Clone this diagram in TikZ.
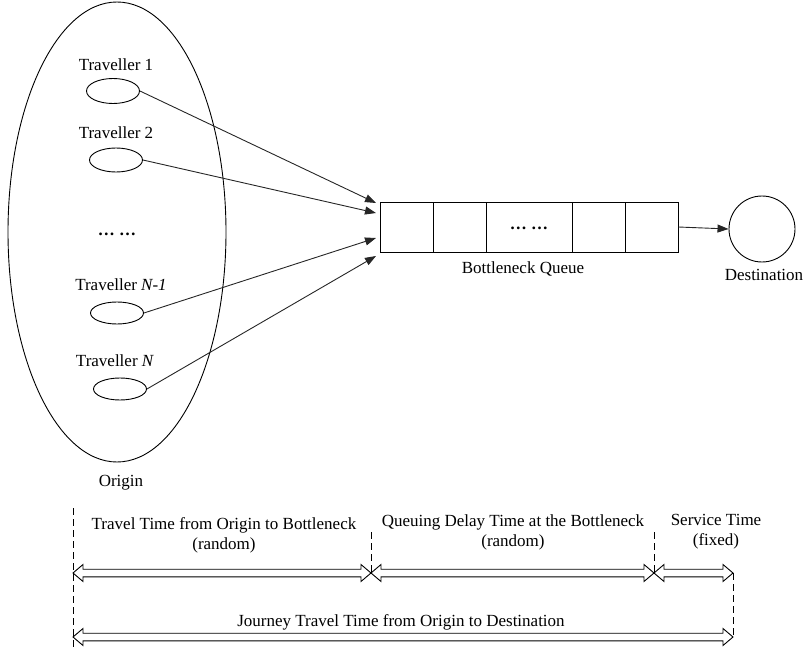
\documentclass[tikz,border=0pt]{standalone}
\usepackage{fontspec}
\setmainfont{Liberation Serif}
\usetikzlibrary{arrows.meta,shapes.geometric}
\tikzset{
  lbl/.style={inner sep=0pt, font=\fontsize{17}{20}\selectfont, align=center},
  oval/.style={draw, line width=0.9pt, ellipse, minimum width=53pt, inner sep=0pt},
  flow/.style={draw=black!85, line width=0.9pt, -{Triangle[length=11pt,width=8pt]}},
  cell/.style={draw, line width=0.9pt, minimum height=50pt, inner sep=0pt},
  span/.style={draw, line width=0.9pt, line join=miter},
  tick/.style={draw, line width=0.9pt, dash pattern=on 7pt off 4pt},
}
\newcommand{\spanarrow}[3]{%
  \path[span] ({#1},{#3}) -- ({#1+10},{#3-8.5}) -- ({#1+10},{#3-3.8}) -- ({#2-10},{#3-3.8})
   -- ({#2-10},{#3-8.5}) -- ({#2},{#3}) -- ({#2-10},{#3+8.5}) -- ({#2-10},{#3+3.8})
   -- ({#1+10},{#3+3.8}) -- ({#1+10},{#3+8.5}) -- cycle;}
\begin{document}
\begin{tikzpicture}[x=1pt,y=-1pt]
\useasboundingbox (0,0) rectangle (807,658);
% origin
\draw[line width=0.9pt] (117,232) ellipse [x radius=109, y radius=230];
\node[lbl] (origin) at (121,483) {Origin};
% travellers
\node[lbl] (t1l) at (116,65) {Traveller 1};
\node[oval, minimum height=25pt] (t1) at (113,91) {};
\node[lbl] (t2l) at (116,133) {Traveller 2};
\node[oval, minimum height=24pt] (t2) at (116,160) {};
\node[lbl] (dots) at (117,234) {\textbf{… …}};
\node[lbl] (t3l) at (121,285) {Traveller \textit{N-1}};
\node[oval, minimum height=22pt] (t3) at (117,313) {};
\node[lbl] (t4l) at (115,361) {Traveller \textit{N}};
\node[oval, minimum height=22pt] (t4) at (120,389) {};
% queue
\node[cell, minimum width=53pt] (q1) at (406.5,227) {};
\node[cell, minimum width=53pt] (q2) at (459.5,227) {};
\node[cell, minimum width=86pt] (q3) at (529,227) {};
\node[cell, minimum width=53pt] (q4) at (598.5,227) {};
\node[cell, minimum width=53pt] (q5) at (651.5,227) {};
\node[lbl] (qdots) at (529,228) {\textbf{… …}};
\node[lbl] (qlbl) at (523,269) {Bottleneck Queue};
% destination
\node[draw, line width=0.9pt, circle, minimum size=66pt, inner sep=0pt] (dest) at (762,229) {};
\node[lbl] (destl) at (764,275) {Destination};
% arrows
\coordinate (a1) at (376,203);
\coordinate (a2) at (376,213);
\coordinate (a3) at (376,238);
\coordinate (a4) at (376,256);
\draw[flow] (t1.east) -- (a1);
\draw[flow] (t2.east) -- (a2);
\draw[flow] (t3.east) -- (a3);
\draw[flow] (t4.east) -- (a4);
\draw[flow] (q5.east) -- (dest.west);
% timeline
\coordinate (m0) at (73,508);
\coordinate (m0b) at (73,650);
\coordinate (m1) at (371,532);
\coordinate (m1b) at (371,573);
\coordinate (m2) at (654,532);
\coordinate (m2b) at (654,573);
\coordinate (m3) at (733,573);
\coordinate (m3b) at (733,637);
\draw[tick] (m0) -- (m0b);
\draw[tick] (m1) -- (m1b);
\draw[tick] (m2) -- (m2b);
\draw[tick] (m3) -- (m3b);
\spanarrow{73}{371}{573}
\spanarrow{371}{654}{573}
\spanarrow{654}{733}{573}
\spanarrow{73}{733}{637}
\node[lbl] (s1) at (224,535) {Travel Time from Origin to Bottleneck\\(random)};
\node[lbl] (s2) at (513,532) {Queuing Delay Time at the Bottleneck\\(random)};
\node[lbl] (s3) at (716,532) {Service Time\\(fixed)};
\node[lbl] (s4) at (401,622) {Journey Travel Time from Origin to Destination};
\end{tikzpicture}
\end{document}
